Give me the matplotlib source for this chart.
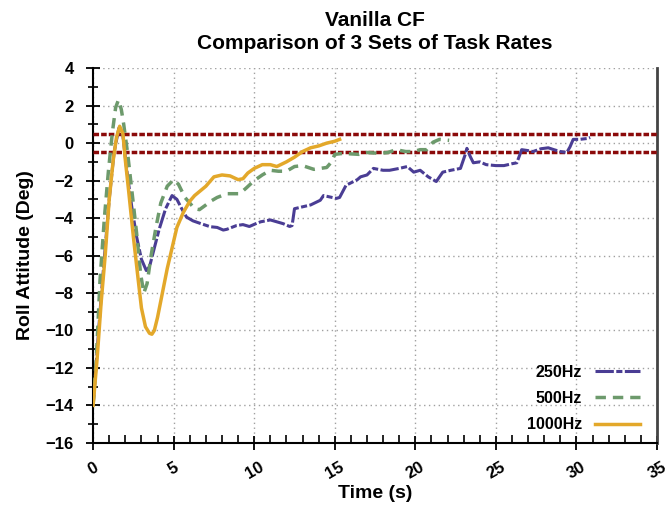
import matplotlib.pyplot as plt
from matplotlib.ticker import MultipleLocator

plt.rcParams['font.family'] = ['Liberation Sans', 'DejaVu Sans']
plt.rcParams['font.weight'] = 'bold'

# 250Hz run
t_250 = [0, 0.5, 1.0, 1.3, 1.6, 1.85, 2.1, 2.4, 2.7, 3.0, 3.3, 3.5, 3.8, 4.1, 4.5, 4.9,
         5.2, 5.5, 5.8, 6.2, 6.7, 7.26, 7.7, 8.08, 8.3, 8.9, 9.3, 9.7, 10.15, 10.4, 11.0,
         11.4, 11.8, 12.2, 12.35, 12.5, 12.75, 13.5, 14.1, 14.3, 15.1, 15.3, 15.7, 16.4,
         16.6, 17.0, 17.4, 18.0, 18.4, 19.0, 19.5, 19.9, 20.3, 20.8, 21.3, 21.7, 22.2,
         22.8, 23.1, 23.2, 23.4, 23.6, 24.0, 24.4, 25.0, 25.5, 26.0, 26.3, 26.6, 27.0,
         27.3, 27.8, 28.25, 28.6, 29.0, 29.4, 29.6, 29.8, 30.2, 30.7, 30.85]
roll_250 = [-14, -8.2, -3.0, -0.5, 0.8, 0.4, -1.5, -3.4, -5.0, -6.2, -6.8, -6.6, -5.6, -4.6,
            -3.5, -2.8, -3.0, -3.5, -3.95, -4.15, -4.3, -4.46, -4.5, -4.64, -4.6, -4.4,
            -4.35, -4.45, -4.28, -4.2, -4.1, -4.2, -4.3, -4.45, -4.4, -3.5, -3.45, -3.3,
            -3.05, -2.8, -2.95, -2.9, -2.25, -1.95, -1.8, -1.7, -1.35, -1.45, -1.45, -1.35,
            -1.25, -1.55, -1.45, -1.8, -2.05, -1.55, -1.45, -1.35, -0.6, -0.28, -0.7,
            -1.05, -1.0, -1.15, -1.2, -1.2, -1.1, -1.05, -0.35, -0.4, -0.45, -0.3, -0.25,
            -0.35, -0.45, -0.5, -0.2, 0.2, 0.2, 0.25, 0.3]

# 500Hz run
t_500 = [0, 0.2, 0.43, 0.7, 0.95, 1.2, 1.4, 1.57, 1.75, 1.9, 2.15, 2.4, 2.7, 2.95, 3.15,
         3.35, 3.6, 3.9, 4.2, 4.6, 5.0, 5.3, 5.7, 6.1, 6.3, 6.6, 7.0, 7.3, 7.7, 8.3, 9.1,
         9.5, 10.0, 10.5, 11.0, 11.5, 12.0, 12.5, 13.0, 13.7, 14.5, 14.8, 15.0, 15.5,
         16.5, 17.0, 17.8, 18.3, 18.8, 19.4, 19.9, 20.3, 20.7, 21.1, 21.5, 22.1]
roll_500 = [-14, -11.5, -7.3, -4.0, -1.5, 0.6, 1.9, 2.3, 1.8, 1.0, -0.6, -2.5, -4.8, -7.0,
            -8.0, -7.5, -6.0, -4.5, -3.2, -2.3, -1.95, -2.2, -2.9, -3.3, -3.5, -3.55,
            -3.3, -3.1, -2.9, -2.7, -2.7, -2.4, -2.0, -1.7, -1.45, -1.5, -1.5, -1.25,
            -1.2, -1.4, -1.3, -1.0, -0.6, -0.55, -0.6, -0.5, -0.55, -0.5, -0.35, -0.45,
            -0.45, -0.35, -0.35, 0.05, 0.2, 0.15]

# 1000Hz run
t_1000 = [0, 0.25, 0.5, 0.75, 1.0, 1.25, 1.45, 1.65, 1.85, 2.0, 2.2, 2.5, 2.8, 3.0, 3.25,
          3.5, 3.65, 3.8, 4.0, 4.3, 4.6, 4.9, 5.2, 5.6, 6.0, 6.3, 7.0, 7.5, 8.0, 8.5, 9.0,
          9.3, 9.6, 10.0, 10.5, 11.0, 11.4, 12.0, 12.5, 13.0, 13.5, 14.0, 14.5, 15.0, 15.3]
roll_1000 = [-14, -11.5, -8.5, -6.0, -3.0, -0.9, 0.3, 0.9, 0.5, -0.9, -2.5, -5.0, -7.3,
             -8.8, -9.8, -10.15, -10.2, -10.0, -9.3, -8.0, -6.7, -5.6, -4.5, -3.7, -3.1,
             -2.8, -2.3, -1.8, -1.7, -1.75, -1.95, -1.9, -1.6, -1.35, -1.15, -1.15, -1.25,
             -1.0, -0.75, -0.45, -0.25, -0.15, 0.0, 0.1, 0.2]

band = [0.5, -0.5]

fig = plt.figure(figsize=(6.65, 5.05), dpi=100)
ax = fig.add_axes([0.14, 0.123, 0.848, 0.742])

for b in band:
    ax.axhline(b, color='#8b0a0a', lw=2.5, dashes=(1.6, 0.6), zorder=3)

ax.plot(t_250, roll_250, color='#4a3d94', lw=2.2, dashes=(6, 0.8, 2, 0.8), label='250Hz', zorder=4)
ax.plot(t_500, roll_500, color='#6d9a6c', lw=2.5, dashes=(3, 2), label='500Hz', zorder=4)
ax.plot(t_1000, roll_1000, color='#e3a82a', lw=2.5, label='1000Hz', zorder=4)

ax.set_xlim(0, 35)
ax.set_ylim(-16, 4)
ax.xaxis.set_major_locator(MultipleLocator(5))
ax.xaxis.set_minor_locator(MultipleLocator(1))
ax.yaxis.set_major_locator(MultipleLocator(2))
ax.yaxis.set_minor_locator(MultipleLocator(1))
ax.grid(True, which='major', color='#a0a0a0', lw=1, ls=(0, (1, 2.5)))
ax.set_axisbelow(True)

ax.spines['top'].set_visible(False)
ax.spines['right'].set_color('#444444')
ax.spines['right'].set_linewidth(2)
ax.spines['left'].set_linewidth(1.5)
ax.spines['bottom'].set_linewidth(1.5)

ax.tick_params(axis='both', which='major', direction='inout', length=10, width=1.3,
               labelsize=12, right=False, top=False)
ax.tick_params(axis='y', which='major', pad=9)
ax.tick_params(axis='x', which='major', pad=7)
ax.tick_params(axis='x', which='minor', direction='in', length=6, width=1.2, top=False)
ax.tick_params(axis='y', which='minor', direction='inout', length=7, width=1.2, right=False)
for lab in ax.get_xticklabels():
    lab.set_rotation(30)
    lab.set_fontweight('bold')
for lab in ax.get_yticklabels():
    lab.set_fontweight('bold')

ax.set_xlabel('Time (s)', fontsize=14, fontweight='bold', labelpad=2)
ax.set_ylabel('Roll Attitude (Deg)', fontsize=14, fontweight='bold', labelpad=8)
ax.set_title('Vanilla CF\nComparison of 3 Sets of Task Rates', fontsize=15,
             fontweight='bold', pad=14, linespacing=1.25)

ax.legend(loc='lower right', bbox_to_anchor=(0.995, -0.01), frameon=False, markerfirst=False,
          handlelength=2.8, labelspacing=0.7, prop={'size': 11.5, 'weight': 'bold'})

fig.savefig('out.png', dpi=100)
